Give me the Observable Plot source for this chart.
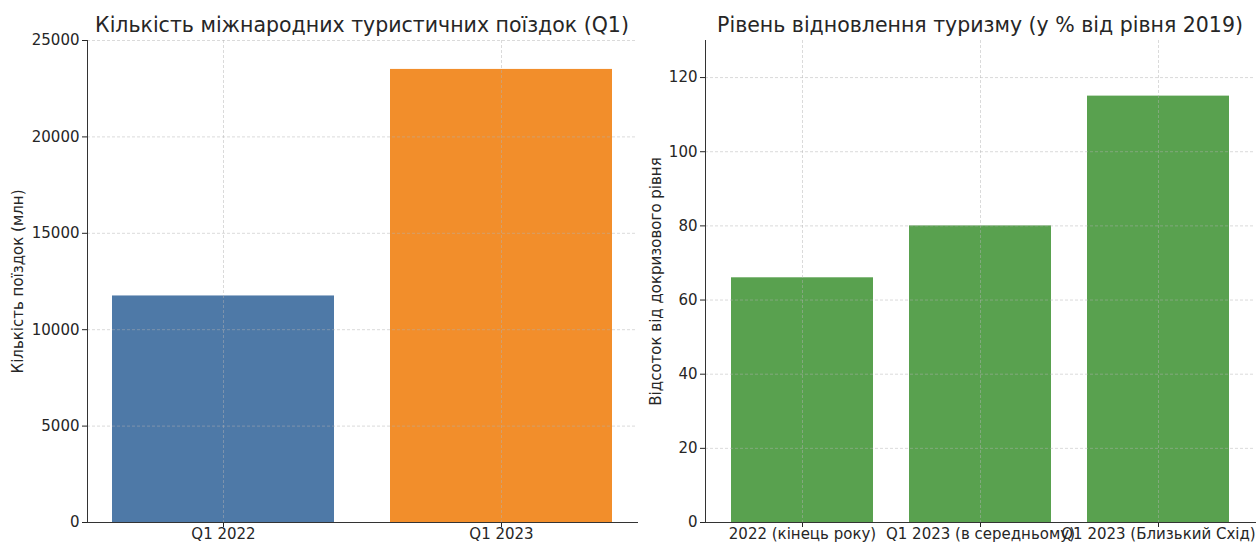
<!DOCTYPE html>
<html><head><meta charset="utf-8">
<script src="https://cdn.jsdelivr.net/npm/d3@7"></script>
<script src="https://cdn.jsdelivr.net/npm/@observablehq/plot@0.6"></script>
<style>
body{margin:0;background:#fff;font-family:"DejaVu Sans",sans-serif;}
#wrap{display:flex;width:1259px;height:543px;overflow:hidden;}
.panel{position:relative;}
.title{position:absolute;top:12px;height:26px;line-height:26px;font-size:20.5px;color:#262626;text-align:center;white-space:nowrap;}
svg{overflow:visible;}
</style>
</head><body>
<div id="wrap">
  <div class="panel" id="p1" style="width:640px"><div class="title" style="left:87px;width:550px">Кількість міжнародних туристичних поїздок (Q1)</div></div>
  <div class="panel" id="p2" style="width:619px"><div class="title" style="left:65px;width:550px">Рівень відновлення туризму (у % від рівня 2019)</div></div>
</div>
<script>
// Left chart data
const tripsCategories = ["Q1 2022", "Q1 2023"];
const tripsValues = [11750, 23500];
const tripsColors = ["#4e79a7", "#f28e2b"];
const tripsTicks = [0, 5000, 10000, 15000, 20000, 25000];

// Right chart data
const recoveryCategories = ["2022 (кінець року)", "Q1 2023 (в середньому)", "Q1 2023 (Близький Схід)"];
const recoveryValues = [66, 80, 115];
const recoveryColor = "#59a14f";
const recoveryTicks = [0, 20, 40, 60, 80, 100, 120];

const tripsData = tripsCategories.map((c, i) => ({cat: c, value: tripsValues[i], color: tripsColors[i]}));
const recoveryData = recoveryCategories.map((c, i) => ({cat: c, value: recoveryValues[i]}));

const gridStyle = {stroke: "#b0b0b0", strokeDasharray: "3,2", strokeWidth: 0.8, strokeOpacity: 0.6};
const baseStyle = {fontFamily: "DejaVu Sans, sans-serif", fontSize: "15px", color: "#262626", overflow: "visible", background: "transparent"};

const left = Plot.plot({
  width: 640, height: 543,
  marginLeft: 87, marginRight: 3, marginTop: 40, marginBottom: 21,
  style: baseStyle,
  color: {type: "identity"},
  x: {domain: tripsCategories, paddingInner: 0.2, paddingOuter: 0.089, label: null},
  y: {domain: [0, 25000], label: null},
  marks: [
    Plot.barY(tripsData, {x: "cat", y: "value", fill: "color"}),
    Plot.ruleY(tripsTicks, gridStyle),
    Plot.ruleX(tripsCategories, gridStyle),
    Plot.axisY({ticks: tripsTicks, tickSize: 5, tickPadding: 3, tickFormat: d => String(d), label: "Кількість поїздок (млн)", labelAnchor: "center", labelOffset: 75, labelArrow: "none", fontSize: 15}),
    Plot.axisX({tickSize: 5, tickPadding: 1, label: null, fontSize: 15}),
    Plot.frame({anchor: "left", stroke: "#333"}),
    Plot.frame({anchor: "bottom", stroke: "#333"})
  ]
});
document.getElementById("p1").appendChild(left);

const right = Plot.plot({
  width: 619, height: 543,
  marginLeft: 65, marginRight: 4, marginTop: 40, marginBottom: 21,
  style: baseStyle,
  x: {domain: recoveryCategories, paddingInner: 0.2, paddingOuter: 0.14, label: null},
  y: {domain: [0, 130], label: null},
  marks: [
    Plot.barY(recoveryData, {x: "cat", y: "value", fill: recoveryColor}),
    Plot.ruleY(recoveryTicks, gridStyle),
    Plot.ruleX(recoveryCategories, gridStyle),
    Plot.axisY({ticks: recoveryTicks, tickSize: 5, tickPadding: 3, label: "Відсоток від докризового рівня", labelAnchor: "center", labelOffset: 55, labelArrow: "none", fontSize: 15}),
    Plot.axisX({tickSize: 5, tickPadding: 1, label: null, fontSize: 15}),
    Plot.frame({anchor: "left", stroke: "#333"}),
    Plot.frame({anchor: "bottom", stroke: "#333"})
  ]
});
document.getElementById("p2").appendChild(right);
</script>
</body></html>
